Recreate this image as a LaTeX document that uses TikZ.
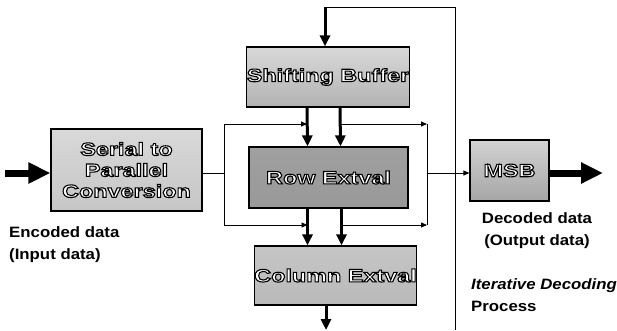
\documentclass[tikz,border=0pt]{standalone}
\usepackage{fontspec}
\setmainfont{Liberation Sans}
\newfontfamily\blockfont[FakeStretch=1.3]{Liberation Sans}
\newfontfamily\notefont[FakeStretch=1.12]{Liberation Sans}
\usepackage{tikz}
\usetikzlibrary{positioning,arrows.meta}
\tikzset{
    block/.style={draw, line width=1.2pt, inner sep=0pt, align=center,
        font=\blockfont\bfseries\fontsize{18}{21}\selectfont},
    note/.style={inner sep=0pt, font=\notefont\bfseries\fontsize{15}{22}\selectfont},
    fat/.style={line width=7pt, -{Triangle[length=22pt,width=20pt]}},
    big/.style={line width=3pt, -{Triangle[length=11pt,width=10pt]}},
    link/.style={line width=0.8pt, -{Triangle[length=6pt,width=5pt]}},
    wire/.style={line width=0.8pt}
}
% white letters with a black rim
\newcommand{\btxt}[1]{\special{pdf:code q 2 Tr 1.1 w 0 G 1 g}#1\special{pdf:code Q}}

\begin{document}
\begin{tikzpicture}[x=1pt, y=-1pt]
    \useasboundingbox (0,0) rectangle (617,330);

    \node[block, minimum width=151pt, minimum height=82pt, top color=gray!30, bottom color=gray!45] (ser) at (126.5,170)
        {\btxt{Serial to}\\\btxt{Parallel}\\\btxt{Conversion}};
    \node[block, minimum width=158pt, minimum height=60pt, top color=gray!30, bottom color=gray!60] (shift) at (328,77)
        {\btxt{Shifting Buffer}};
    \node[block, minimum width=159pt, minimum height=61pt, top color=gray!75, middle color=gray!30, bottom color=gray!80] (row) at (328.5,177.5)
        {\btxt{Row Extval}};
    \node[block, minimum width=159pt, minimum height=59pt, top color=gray!45, middle color=gray!30, bottom color=gray!55] (col) at (335.5,275.5)
        {\btxt{Column Extval}};
    \node[block, minimum width=79pt, minimum height=61pt, top color=gray!35, bottom color=gray!70] (msb) at (509.5,170.5)
        {\btxt{MSB}};

    \coordinate (in) at (5,173);
    \coordinate (out) at (603,173);
    \coordinate (lm) at (224,173);
    \coordinate (lt) at (224,124);
    \coordinate (lb) at (224,225);
    \coordinate (rm) at (427,173);
    \coordinate (rt) at (427,124);
    \coordinate (rb) at (427,225);
    \coordinate (fbtop) at (455,7);
    \coordinate (fbbot) at (455,330);
    \coordinate (fbin) at (325,7);
    \coordinate (end) at (326,330);

    \draw[fat] (in) -- (ser.west |- in);
    \draw[fat] (msb.east |- out) -- (out);

    \draw[wire] (ser.east |- lm) -- (lm);
    \draw[link] (lm) |- ([xshift=-21pt]shift.south |- lt);
    \draw[link] (lm) |- ([xshift=-21pt]row.south |- lb);
    \draw[link] ([xshift=12pt]shift.south |- rt) -- (rt);
    \draw[link] ([xshift=13pt]row.south |- rb) -- (rb);
    \draw[wire] (rt) -- (rb);
    \draw[link] (rm) -- (msb.west |- rm);

    \draw[big] ([xshift=-21pt]shift.south) -- ([xshift=-21pt]row.north);
    \draw[big] ([xshift=12pt]shift.south) -- ([xshift=12pt]row.north);
    \draw[big] ([xshift=-21pt]row.south) -- ([xshift=-21pt]row.south |- col.north);
    \draw[big] ([xshift=13pt]row.south) -- ([xshift=13pt]row.south |- col.north);
    \draw[big] (col.south -| end) -- (end);

    \draw[wire] (fbbot) -- (fbtop) -- (fbin);
    \draw[big] (fbin) -- (shift.north -| fbin);

    \node[note, align=left, anchor=west] (enc) at (9,245) {Encoded data\\(Input data)};
    \node[note, align=center] (dec) at (537,231) {Decoded data\\(Output data)};
    \node[note, align=left, anchor=west] (iter) at (471,295) {\itshape Iterative Decoding\\Process};
\end{tikzpicture}
\end{document}
